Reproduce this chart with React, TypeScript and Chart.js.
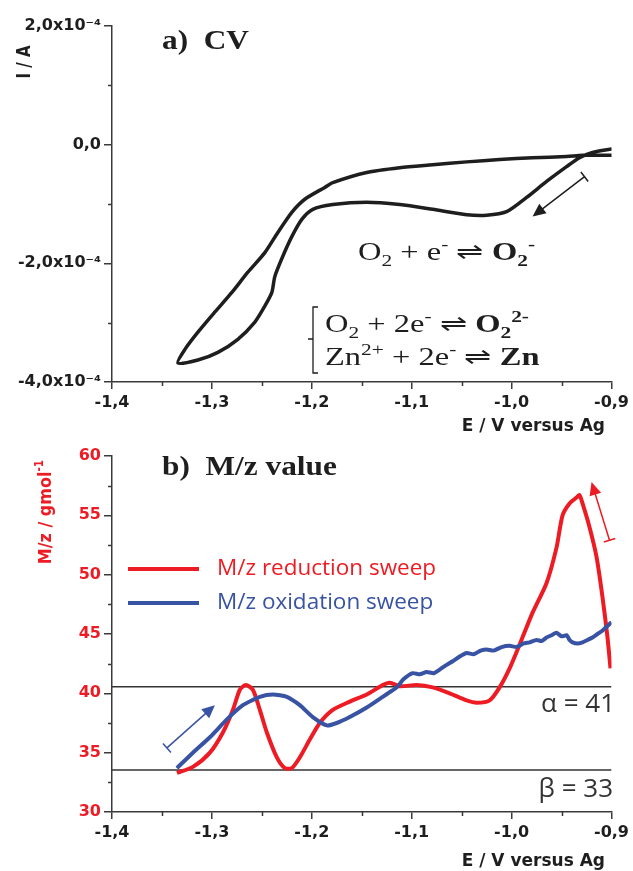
import React, { useEffect, useRef } from "react";
import { Chart, registerables } from "chart.js";
Chart.register(...registerables);

// ---------- data ----------
// potential axis ticks (V versus Ag)
const potentialTicks = [-1.4, -1.3, -1.2, -1.1, -1.0, -0.9];
const potentialMinorTicks = [-1.35, -1.25, -1.15, -1.05, -0.95];
// CV current ticks in units of 1e-4 A
const currentTicks = [-4, -2, 0, 2];
const currentMinorTicks = [-3, -1, 1];
const massTicks = [30, 35, 40, 45, 50, 55, 60];
const massMinorTicks = [32.5, 37.5, 42.5, 47.5, 52.5, 57.5];

// CV loop (reduction sweep then oxidation sweep), current in 1e-4 A
const cvPotential = [
  -0.899, -0.919, -0.932, -0.945, -0.965, -0.985, -1.005, -1.025, -1.045, -1.079, -1.112, -1.145,
  -1.179, -1.199, -1.21, -1.22, -1.229, -1.237, -1.24, -1.247, -1.257, -1.274, -1.294, -1.314, -1.334,
  -1.327, -1.314, -1.297, -1.28, -1.264, -1.247, -1.234, -1.22, -1.207, -1.187, -1.179, -1.145, -1.112,
  -1.079, -1.045, -1.012, -0.979, -0.945, -0.929, -0.899,
];
const cvCurrent = [
  -0.07, -0.13, -0.22, -0.37, -0.62, -0.89, -1.13, -1.19, -1.18, -1.09, -1.01, -0.97,
  -1.01, -1.09, -1.26, -1.55, -1.88, -2.22, -2.49, -2.72, -2.99, -3.28, -3.5, -3.63, -3.68,
  -3.45, -3.16, -2.82, -2.49, -2.15, -1.82, -1.48, -1.14, -0.92, -0.72, -0.64, -0.47, -0.39,
  -0.34, -0.29, -0.25, -0.22, -0.2, -0.18, -0.18,
];

// M/z reduction sweep
const redPotential = [
  -1.335, -1.319, -1.302, -1.289, -1.279, -1.272, -1.266, -1.259, -1.252, -1.245, -1.235, -1.227,
  -1.22, -1.212, -1.202, -1.192, -1.179, -1.162, -1.145, -1.129, -1.122, -1.112, -1.095, -1.079,
  -1.062, -1.045, -1.035, -1.022, -1.012, -1.002, -0.992, -0.979, -0.965, -0.955, -0.949, -0.942,
  -0.935, -0.932, -0.929, -0.922, -0.915, -0.909, -0.904, -0.901,
];
const redMass = [
  33.3, 33.8, 35.0, 36.7, 38.6, 40.3, 40.7, 40.3, 38.6, 36.7, 34.6, 33.7,
  33.7, 34.6, 36.1, 37.5, 38.6, 39.3, 39.9, 40.7, 40.9, 40.6, 40.7, 40.5,
  40.0, 39.4, 39.2, 39.4, 40.5, 42.1, 44.1, 46.8, 49.3, 52.3, 55.0, 56.0,
  56.5, 56.7, 56.0, 54.0, 51.5, 48.1, 44.7, 42.1,
];

// M/z oxidation sweep
const bluePotential = [
  -1.335, -1.319, -1.302, -1.285, -1.269, -1.252, -1.239, -1.225, -1.212, -1.199, -1.185, -1.175,
  -1.162, -1.145, -1.129, -1.122, -1.115, -1.108, -1.099, -1.092, -1.085, -1.078, -1.072, -1.065,
  -1.059, -1.052, -1.045, -1.038, -1.031, -1.025, -1.018, -1.01, -1.002, -0.995, -0.988, -0.982,
  -0.975, -0.97, -0.965, -0.96, -0.955, -0.95, -0.945, -0.942, -0.939, -0.934, -0.929, -0.924,
  -0.919, -0.914, -0.909, -0.9,
];
const blueMass = [
  33.7, 35.0, 36.3, 37.8, 39.0, 39.7, 39.9, 39.7, 39.0, 38.0, 37.3, 37.5,
  38.0, 38.8, 39.7, 40.1, 40.5, 41.2, 41.7, 41.6, 41.8, 41.7, 42.0, 42.4,
  42.7, 43.1, 43.4, 43.3, 43.6, 43.7, 43.6, 43.9, 44.0, 43.9, 44.2, 44.3,
  44.5, 44.4, 44.7, 44.9, 45.1, 44.8, 44.9, 44.5, 44.3, 44.2, 44.3, 44.5,
  44.7, 45.0, 45.3, 46.0,
];

const alphaLevel = 40.56;
const betaLevel = 33.54;

// arrows [startE, startY, tipE, tipY]
const cvArrow = [-0.927, -0.54, -0.979, -1.21];
const oxArrow = [-1.345, 35.4, -1.297, 39.0];
const redArrow = [-0.902, 52.9, -0.92, 57.8];

// ---------- styles ----------
const W = 633;
const TOP_H = 445;
const BOT_TOP = 430;
const BOT_H = 441;
const AREA_RIGHT = 612;
const AREA_TOP = 26;
const AREA_BOTTOM = 382;
const AXIS = "#3a3a3a";
const RED = "#ed1c24";
const BLUE = "#3953a4";
const INK = "#1e1e1e";
const SANS = "'DejaVu Sans'";
const SERIF = "'Liberation Serif'";
const tickFont = { family: "DejaVu Sans", weight: "bold" as const, size: 16 };

type Seg = { t: string; b?: boolean; s?: "sub" | "sup" };
type RichOpts = {
  x: number; y: number; size: number; family: string; color: string;
  align?: "left" | "center" | "right"; rotate?: number; sx?: number; bold?: boolean;
};

function drawRich(ctx: CanvasRenderingContext2D, segs: Seg[], o: RichOpts) {
  ctx.save();
  ctx.translate(o.x, o.y);
  ctx.scale(o.sx ?? 1, 1);
  if (o.rotate) ctx.rotate(o.rotate);
  ctx.fillStyle = o.color;
  ctx.textBaseline = "alphabetic";
  ctx.textAlign = "left";
  const font = (g: Seg) => `${g.b || o.bold ? "bold " : ""}${g.s ? o.size * 0.66 : o.size}px ${o.family}`;
  let total = 0;
  for (const g of segs) { ctx.font = font(g); total += ctx.measureText(g.t).width; }
  let cx = o.align === "center" ? -total / 2 : o.align === "right" ? -total : 0;
  for (const g of segs) {
    ctx.font = font(g);
    const dy = g.s === "sub" ? o.size * 0.22 : g.s === "sup" ? -o.size * 0.42 : 0;
    ctx.fillText(g.t, cx, dy);
    cx += ctx.measureText(g.t).width;
  }
  ctx.restore();
}

function drawArrow(chart: any, a: number[], color: string) {
  const { ctx, scales } = chart;
  const x0 = scales.x.getPixelForValue(a[0]);
  const y0 = scales.y.getPixelForValue(a[1]);
  const x1 = scales.x.getPixelForValue(a[2]);
  const y1 = scales.y.getPixelForValue(a[3]);
  const ang = Math.atan2(y1 - y0, x1 - x0);
  const ux = Math.cos(ang), uy = Math.sin(ang);
  const px = -uy, py = ux;
  const head = 13, half = 6;
  ctx.save();
  ctx.strokeStyle = color;
  ctx.fillStyle = color;
  ctx.lineWidth = 1.5;
  ctx.beginPath();
  ctx.moveTo(x0, y0);
  ctx.lineTo(x1 - ux * head * 0.8, y1 - uy * head * 0.8);
  ctx.moveTo(x0 - px * 6, y0 - py * 6);
  ctx.lineTo(x0 + px * 6, y0 + py * 6);
  ctx.stroke();
  ctx.beginPath();
  ctx.moveTo(x1, y1);
  ctx.lineTo(x1 - ux * head + px * half, y1 - uy * head + py * half);
  ctx.lineTo(x1 - ux * head - px * half, y1 - uy * head - py * half);
  ctx.closePath();
  ctx.fill();
  ctx.restore();
}

function drawMinorTicks(chart: any, xMinor: number[], yMinor: number[]) {
  const { ctx, scales, chartArea } = chart;
  ctx.save();
  ctx.strokeStyle = AXIS;
  ctx.lineWidth = 1.5;
  ctx.beginPath();
  for (const v of xMinor) {
    const x = Math.round(scales.x.getPixelForValue(v)) + 0.5;
    ctx.moveTo(x, chartArea.bottom);
    ctx.lineTo(x, chartArea.bottom + 4);
  }
  for (const v of yMinor) {
    const y = Math.round(scales.y.getPixelForValue(v)) + 0.5;
    ctx.moveTo(chartArea.left, y);
    ctx.lineTo(chartArea.left - 4, y);
  }
  ctx.stroke();
  ctx.restore();
}

function xAxisTitle(ctx: CanvasRenderingContext2D, baseline: number) {
  drawRich(ctx, [{ t: "E / V versus Ag" }], {
    x: 605, y: baseline, size: 17, family: SANS, color: INK, align: "right", bold: true,
  });
}

const fmtPotential = (v: number) => v.toFixed(1).replace(".", ",");
const fmtCurrent = (v: number) => (v === 0 ? "0,0" : `${v.toFixed(1).replace(".", ",")}x10⁻⁴`);

function axisCommon(h: number) {
  return {
    type: "linear" as const,
    min: -1.4,
    max: -0.9,
    afterBuildTicks: (s: any) => { s.ticks = potentialTicks.map((v) => ({ value: v })); },
    afterFit: (s: any) => { s.height = h - AREA_BOTTOM; },
    grid: { display: true, drawOnChartArea: false, drawTicks: true, tickLength: 7, color: AXIS, lineWidth: 1.5 },
    border: { display: true, color: AXIS, width: 1.5 },
    ticks: { font: tickFont, color: INK, padding: 4, maxRotation: 0, autoSkip: false, callback: (v: any) => fmtPotential(Number(v)) },
  };
}

const topPlugin = {
  id: "topDecor",
  afterDraw(chart: any) {
    const ctx = chart.ctx as CanvasRenderingContext2D;
    drawMinorTicks(chart, potentialMinorTicks, currentMinorTicks);
    drawRich(ctx, [{ t: "a)  CV" }], { x: 162, y: 49, size: 27, family: SERIF, color: INK, bold: true, sx: 1.16 });
    drawRich(ctx, [{ t: "I / A" }], { x: 30, y: 62, size: 15, family: SANS, color: INK, bold: true, align: "center", rotate: -Math.PI / 2, sx: 1.3 });
    xAxisTitle(ctx, 431);
    drawArrow(chart, cvArrow, INK);
    const eq = { size: 25, family: SERIF, color: INK, sx: 1.3 };
    drawRich(ctx, [
      { t: "O" }, { t: "2", s: "sub" }, { t: " + e" }, { t: "-", s: "sup" }, { t: " ⇌ " },
      { t: "O", b: true }, { t: "2", s: "sub", b: true }, { t: "-", s: "sup", b: true },
    ], { ...eq, x: 358, y: 260 });
    drawRich(ctx, [
      { t: "O" }, { t: "2", s: "sub" }, { t: " + 2e" }, { t: "-", s: "sup" }, { t: " ⇌ " },
      { t: "O", b: true }, { t: "2", s: "sub", b: true }, { t: "2-", s: "sup", b: true },
    ], { ...eq, x: 325, y: 332 });
    drawRich(ctx, [
      { t: "Zn" }, { t: "2+", s: "sup" }, { t: " + 2e" }, { t: "-", s: "sup" }, { t: " ⇌ " }, { t: "Zn", b: true },
    ], { ...eq, x: 325, y: 365 });
    // bracket
    ctx.save();
    ctx.strokeStyle = INK;
    ctx.lineWidth = 1.3;
    ctx.beginPath();
    ctx.moveTo(318, 307); ctx.lineTo(313, 307); ctx.lineTo(313, 373); ctx.lineTo(318, 373);
    ctx.moveTo(313, 339); ctx.lineTo(308, 339);
    ctx.stroke();
    ctx.restore();
  },
};

const bottomPlugin = {
  id: "bottomDecor",
  afterDraw(chart: any) {
    const ctx = chart.ctx as CanvasRenderingContext2D;
    drawMinorTicks(chart, potentialMinorTicks, massMinorTicks);
    drawRich(ctx, [{ t: "b)  M/z value" }], { x: 162, y: 45, size: 27, family: SERIF, color: INK, bold: true, sx: 1.16 });
    drawRich(ctx, [{ t: "M/z / gmol" }, { t: "-1", s: "sup" }], {
      x: 51, y: 82, size: 16, family: SANS, color: RED, bold: true, align: "center", rotate: -Math.PI / 2, sx: 1.15,
    });
    xAxisTitle(ctx, 436);
    drawArrow(chart, oxArrow, BLUE);
    drawArrow(chart, redArrow, RED);
    // legend
    ctx.save();
    ctx.lineWidth = 4;
    ctx.strokeStyle = RED;
    ctx.beginPath(); ctx.moveTo(128, 139); ctx.lineTo(199, 139); ctx.stroke();
    ctx.strokeStyle = BLUE;
    ctx.beginPath(); ctx.moveTo(128, 173); ctx.lineTo(199, 173); ctx.stroke();
    ctx.font = "22.5px 'Open Sans'";
    ctx.textBaseline = "middle";
    ctx.fillStyle = RED;
    ctx.fillText("M/z reduction sweep", 217, 139);
    ctx.fillStyle = BLUE;
    ctx.fillText("M/z oxidation sweep", 217, 173);
    ctx.fillStyle = "#333";
    ctx.textBaseline = "alphabetic";
    ctx.textAlign = "right";
    ctx.font = "26px 'Open Sans'";
    ctx.fillText("α = 41", 615, 282);
    ctx.fillText("β = 33", 613, 367);
    ctx.restore();
  },
};

const pts = (xs: number[], ys: number[]) => xs.map((x, i) => ({ x, y: ys[i] }));

export default function App() {
  const topRef = useRef<HTMLCanvasElement>(null);
  const botRef = useRef<HTMLCanvasElement>(null);

  useEffect(() => {
    const top = new Chart(topRef.current!, {
      type: "scatter",
      data: {
        datasets: [
          {
            data: pts(cvPotential, cvCurrent), showLine: true, borderColor: INK, borderWidth: 3.5,
            pointRadius: 0, tension: 0.25, fill: false,
          },
        ],
      },
      options: {
        responsive: false,
        animation: false,
        events: [],
        layout: { padding: { top: AREA_TOP, right: W - AREA_RIGHT, left: 0, bottom: 0 } },
        plugins: { legend: { display: false }, tooltip: { enabled: false } },
        scales: {
          x: axisCommon(TOP_H) as any,
          y: {
            type: "linear", min: -4, max: 2,
            afterBuildTicks: (s: any) => { s.ticks = currentTicks.map((v) => ({ value: v })); },
            afterFit: (s: any) => { s.width = 112; },
            grid: { display: true, drawOnChartArea: false, drawTicks: true, tickLength: 8, color: AXIS, lineWidth: 1.5 },
            border: { display: true, color: AXIS, width: 1.5 },
            ticks: { font: tickFont, color: INK, padding: 3, callback: (v: any) => fmtCurrent(Number(v)) },
          },
        },
      },
      plugins: [topPlugin],
    });

    const bottom = new Chart(botRef.current!, {
      type: "scatter",
      data: {
        datasets: [
          {
            data: pts(bluePotential, blueMass), showLine: true, borderColor: BLUE, borderWidth: 4,
            pointRadius: 0, tension: 0.2, fill: false,
          },
          {
            data: pts(redPotential, redMass), showLine: true, borderColor: RED, borderWidth: 4,
            pointRadius: 0, tension: 0.25, fill: false,
          },
          {
            data: [{ x: -1.4, y: alphaLevel }, { x: -0.9, y: alphaLevel }], showLine: true,
            borderColor: "#333", borderWidth: 1.5, pointRadius: 0, fill: false,
          },
          {
            data: [{ x: -1.4, y: betaLevel }, { x: -0.9, y: betaLevel }], showLine: true,
            borderColor: "#333", borderWidth: 1.5, pointRadius: 0, fill: false,
          },
        ],
      },
      options: {
        responsive: false,
        animation: false,
        events: [],
        layout: { padding: { top: AREA_TOP, right: W - AREA_RIGHT, left: 0, bottom: 0 } },
        plugins: { legend: { display: false }, tooltip: { enabled: false } },
        scales: {
          x: axisCommon(BOT_H) as any,
          y: {
            type: "linear", min: 30, max: 60,
            afterBuildTicks: (s: any) => { s.ticks = massTicks.map((v) => ({ value: v })); },
            afterFit: (s: any) => { s.width = 112; },
            grid: { display: true, drawOnChartArea: false, drawTicks: true, tickLength: 8, color: AXIS, lineWidth: 1.5 },
            border: { display: true, color: AXIS, width: 1.5 },
            ticks: { font: tickFont, color: RED, padding: 3, callback: (v: any) => String(v) },
          },
        },
      },
      plugins: [bottomPlugin],
    });

    return () => { top.destroy(); bottom.destroy(); };
  }, []);

  return (
    <div style={{ position: "absolute", left: 0, top: 0, width: W, height: 871, background: "#fff" }}>
      <canvas ref={topRef} width={W} height={TOP_H} style={{ position: "absolute", left: 0, top: 0 }} />
      <canvas ref={botRef} width={W} height={BOT_H} style={{ position: "absolute", left: 0, top: BOT_TOP }} />
    </div>
  );
}
